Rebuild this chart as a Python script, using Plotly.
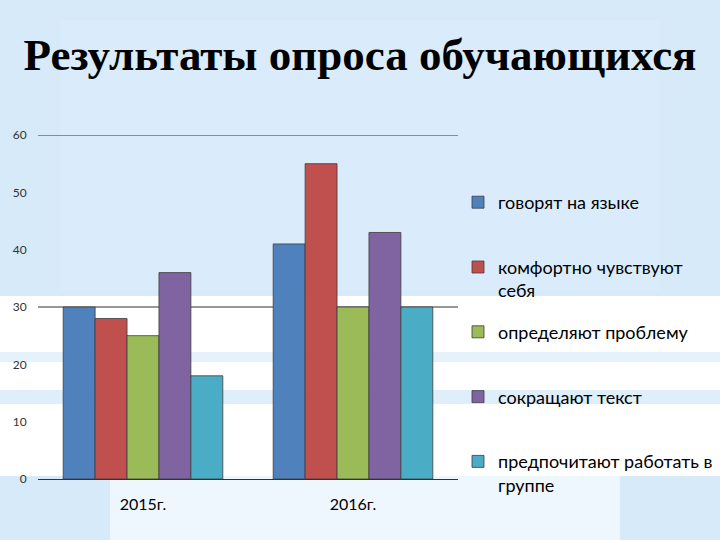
import plotly.graph_objects as go

categories = ["2015г.", "2016г."]
series_names = [
    "говорят на языке",
    "комфортно чувствуют<br>себя",
    "определяют проблему",
    "сокращают текст",
    "предпочитают работать в<br>группе",
]
series_values = [
    [30, 41],
    [28, 55],
    [25, 30],
    [36, 43],
    [18, 30],
]
series_colors = ["#4F81BD", "#C0504D", "#9BBB59", "#8064A2", "#4BACC6"]
y_ticks = [0, 10, 20, 30, 40, 50, 60]
grid_values = [30, 60]
title_text = "Результаты опроса обучающихся"

fig = go.Figure()
for i, (name, vals, col) in enumerate(zip(series_names, series_values, series_colors)):
    label = name if "<br>" in name else name + "<br>\u00a0"
    fig.add_trace(go.Bar(
        x=categories, y=vals, name=label, legendgroup=f"g{i}",
        marker=dict(color=col, line=dict(color="#3c3c3c", width=0.8)),
    ))


def py(p):
    return (479 - p) / 344.0


def px(p):
    return (p - 38) / 420.0


shapes = [
    dict(type="rect", xref="paper", yref="paper", x0=px(60), x1=px(660), y0=py(20), y1=py(290),
         fillcolor="#e3f1fc", line_width=0, layer="below", opacity=0.35),
    dict(type="rect", xref="paper", yref="paper", x0=px(0), x1=px(720), y0=py(476), y1=py(296),
         fillcolor="#ffffff", line_width=0, layer="below"),
    dict(type="rect", xref="paper", yref="paper", x0=px(0), x1=px(720), y0=py(362), y1=py(352),
         fillcolor="#d4e9fa", line_width=0, layer="below", opacity=0.6),
    dict(type="rect", xref="paper", yref="paper", x0=px(0), x1=px(720), y0=py(404), y1=py(390),
         fillcolor="#c8e2f8", line_width=0, layer="below", opacity=0.6),
    dict(type="rect", xref="paper", yref="paper", x0=px(110), x1=px(620), y0=py(545), y1=py(476),
         fillcolor="#eef6fe", line_width=0, layer="below"),
]
for g in grid_values:
    shapes.append(dict(type="line", xref="paper", yref="y", x0=0, x1=1, y0=g, y1=g,
                       line=dict(color="#333333", width=1.2), layer="below"))

fig.update_layout(
    width=720, height=540,
    margin=dict(l=38, r=262, t=135, b=61, autoexpand=False),
    paper_bgcolor="#d6eafa",
    plot_bgcolor="rgba(0,0,0,0)",
    barmode="group", bargap=0.24, bargroupgap=0,
    shapes=shapes,
    showlegend=True,
    legend=dict(
        x=1.0, y=py(184), xanchor="left", yanchor="top",
        font=dict(family="Lato", size=18, color="#000000"),
        bgcolor="rgba(0,0,0,0)", traceorder="grouped", tracegroupgap=15,
        valign="top",
    ),
    title=dict(
        text="<b>" + title_text + "</b>", x=0.5, xref="container", xanchor="center",
        y=1 - 54 / 540, yref="container", yanchor="middle",
        font=dict(family="Liberation Serif", size=45, color="#000000"),
    ),
    xaxis=dict(
        showgrid=False, showline=True, linecolor="#333333", linewidth=1.2,
        ticks="outside", ticklen=11, tickcolor="rgba(0,0,0,0)",
        tickfont=dict(family="Lato", size=16, color="#000000"),
    ),
    yaxis=dict(
        range=[0, 60], tickvals=y_ticks, showgrid=False, zeroline=False, showline=False,
        ticks="outside", ticklen=8, tickcolor="rgba(0,0,0,0)",
        tickfont=dict(family="Lato", size=12, color="#333333"),
    ),
)

fig.write_html("out.html")
